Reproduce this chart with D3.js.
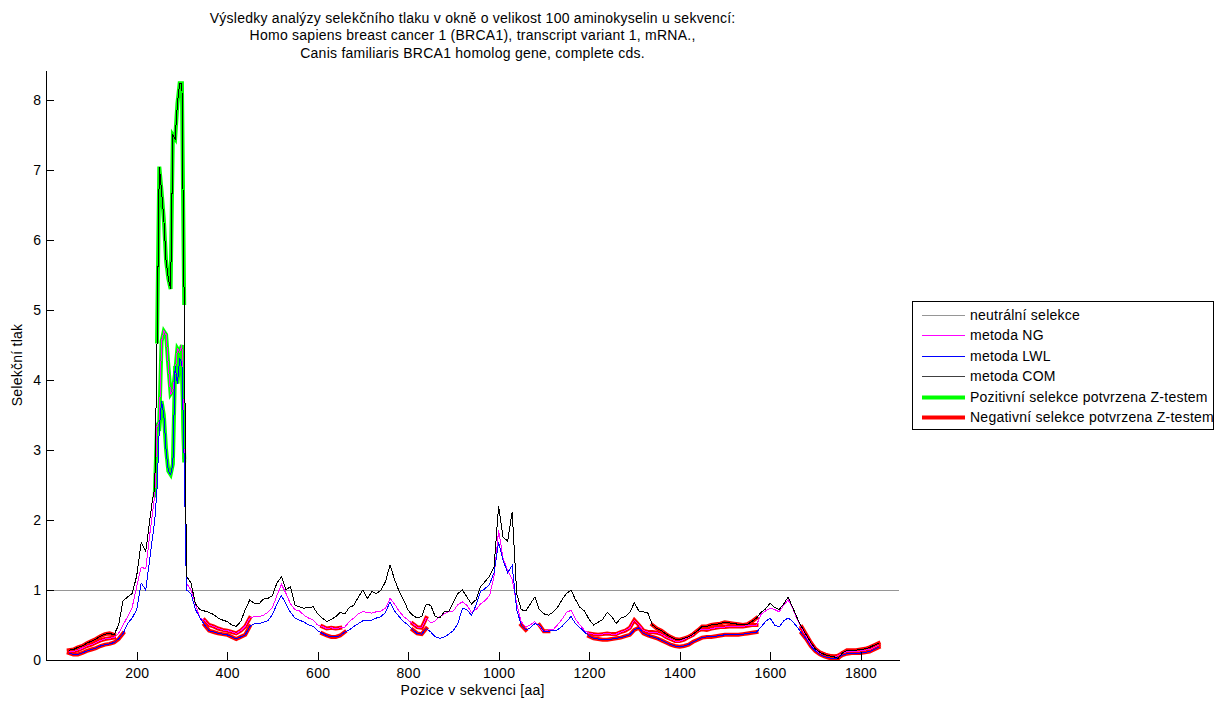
<!DOCTYPE html>
<html>
<head>
<meta charset="utf-8">
<script src="https://cdn.jsdelivr.net/npm/d3@7"></script>
<style>
  body { margin: 0; background: #ffffff; }
  text { font-family: "Liberation Sans", Arial, Helvetica, sans-serif; font-size: 14px; letter-spacing: 0.25px; fill: #000; }
</style>
</head>
<body>
<svg id="chart" width="1215" height="702"></svg>
<script>
// Title lines
const titleLines = [
  "Výsledky analýzy selekčního tlaku v okně o velikost 100 aminokyselin u sekvencí:",
  "Homo sapiens breast cancer 1 (BRCA1), transcript variant 1, mRNA.,",
  "Canis familiaris BRCA1 homolog gene, complete cds."
];
const xLabel = "Pozice v sekvenci [aa]";
const yLabel = "Selekční tlak";

// Window centre positions (aa)
const positions = [
  50, 60, 70, 80, 90,
  100, 110, 120, 130, 140, 150, 160, 170, 180, 190,
  200, 210, 220, 230,
  235, 240, 245, 250, 255, 260, 265, 270, 275, 280, 285, 290, 295, 300, 305, 310,
  320, 330, 340, 350, 360, 370, 380, 390,
  400, 410, 420, 430, 440, 450, 460, 470, 480, 490,
  500, 510, 520, 530, 540, 550, 560, 570, 580, 590,
  600, 610, 620, 630, 640, 650, 660, 670, 680, 690,
  700, 710, 720, 730, 740, 750, 760, 770, 780, 790,
  800, 810, 820, 830, 840, 850, 860, 870, 880, 890,
  900, 910, 920, 930, 940, 950, 960, 970, 980, 990,
  1000, 1010, 1020, 1030, 1040, 1050, 1060, 1070, 1080, 1090,
  1100, 1110, 1120, 1130, 1140, 1150, 1160, 1170, 1180, 1190,
  1200, 1210, 1220, 1230, 1240, 1250, 1260, 1270, 1280, 1290,
  1300, 1310, 1320, 1330, 1340, 1350, 1360, 1370, 1380, 1390,
  1400, 1410, 1420, 1430, 1440, 1450, 1460, 1470, 1480, 1490,
  1500, 1510, 1520, 1530, 1540, 1550, 1560, 1570, 1580, 1590,
  1600, 1610, 1620, 1630, 1640, 1650, 1660, 1670, 1680, 1690,
  1700, 1710, 1720, 1730, 1740, 1750, 1760, 1770, 1780, 1790,
  1800, 1810, 1820, 1830, 1840
];

// Selection pressure, method NG
const ngValues = [
  0.12, 0.12, 0.14, 0.17, 0.2,
  0.22, 0.25, 0.28, 0.3, 0.31, 0.32, 0.38, 0.5, 0.62, 0.75,
  1.05, 1.33, 1.3, 1.85,
  2.1, 2.35, 3.35, 3.4, 4.55, 4.7, 4.65, 4.2, 3.8, 3.85, 4.1, 4.45, 4.4, 4.5, 2.9, 1.1,
  1.0, 0.8, 0.6, 0.57, 0.5, 0.48, 0.45, 0.43,
  0.42, 0.4, 0.38, 0.42, 0.48, 0.6, 0.62, 0.62, 0.64, 0.68,
  0.75, 0.92, 1.08, 0.95, 0.8, 0.72, 0.7, 0.64, 0.6, 0.57,
  0.5, 0.48, 0.45, 0.46, 0.45, 0.46, 0.47, 0.55, 0.6, 0.66,
  0.69, 0.68, 0.67, 0.69, 0.7, 0.74, 0.88, 0.8, 0.7, 0.62,
  0.57, 0.52, 0.47, 0.46, 0.6, 0.53, 0.56, 0.62, 0.66, 0.69,
  0.7, 0.79, 0.83, 0.78, 0.68, 0.72, 0.8, 0.85, 0.92, 1.2,
  1.85, 1.45, 1.28, 1.15, 0.8, 0.55, 0.47, 0.5, 0.55, 0.48,
  0.41, 0.43, 0.43, 0.5, 0.58, 0.68, 0.71, 0.58, 0.5, 0.42,
  0.38, 0.37, 0.36, 0.37, 0.38, 0.37, 0.37, 0.4, 0.42, 0.46,
  0.57, 0.5, 0.42, 0.4, 0.4, 0.39, 0.37, 0.33, 0.3, 0.27,
  0.27, 0.29, 0.33, 0.36, 0.42, 0.44, 0.43, 0.45, 0.46, 0.47,
  0.47, 0.48, 0.48, 0.48, 0.48, 0.49, 0.5, 0.5, 0.65, 0.7,
  0.74, 0.72, 0.69, 0.78, 0.86, 0.74, 0.58, 0.45, 0.34, 0.22,
  0.15, 0.1, 0.08, 0.06, 0.05, 0.06, 0.1, 0.12, 0.12, 0.12,
  0.13, 0.14, 0.15, 0.18, 0.21
];

// Selection pressure, method LWL
const lwlValues = [
  0.1, 0.08, 0.08, 0.1, 0.13,
  0.15, 0.17, 0.2, 0.22, 0.23, 0.25, 0.3, 0.38, 0.52, 0.6,
  0.72, 1.1, 1.0, 1.5,
  1.75, 2.0, 2.45, 3.3, 3.7, 3.5, 3.0, 2.7, 2.65, 2.8, 4.2, 3.95, 4.3, 4.25, 2.85, 1.0,
  0.95, 0.72, 0.6, 0.5, 0.42, 0.4, 0.38, 0.37,
  0.36, 0.33, 0.3, 0.33, 0.36, 0.48, 0.52, 0.52, 0.54, 0.56,
  0.65, 0.8, 0.92, 0.8, 0.68, 0.6, 0.57, 0.54, 0.5, 0.48,
  0.42, 0.38, 0.35, 0.33, 0.33, 0.35, 0.4, 0.43, 0.48, 0.52,
  0.56, 0.57, 0.57, 0.6, 0.62, 0.68, 0.83, 0.7, 0.62, 0.55,
  0.5, 0.43, 0.38, 0.37, 0.45, 0.4, 0.33, 0.31, 0.33, 0.37,
  0.42, 0.52, 0.74, 0.72, 0.64, 0.78, 0.98, 1.02, 1.08, 1.25,
  1.68, 1.42, 1.25, 1.35, 0.72, 0.5, 0.43, 0.46, 0.52, 0.5,
  0.41, 0.41, 0.42, 0.43, 0.48, 0.55, 0.62, 0.52, 0.46, 0.4,
  0.34, 0.31, 0.3, 0.29, 0.29, 0.3, 0.31, 0.32, 0.34, 0.36,
  0.43, 0.46, 0.38, 0.35, 0.33, 0.31, 0.28, 0.25, 0.22, 0.2,
  0.19, 0.2, 0.22, 0.26, 0.29, 0.32, 0.33, 0.33, 0.34, 0.35,
  0.36, 0.36, 0.36, 0.36, 0.37, 0.38, 0.39, 0.4, 0.47, 0.55,
  0.6, 0.5, 0.47, 0.56, 0.6, 0.55, 0.47, 0.38, 0.3, 0.2,
  0.13, 0.08, 0.05, 0.03, 0.02, 0.03, 0.07, 0.09, 0.1, 0.1,
  0.1, 0.11, 0.12, 0.15, 0.18
];

// Selection pressure, method COM
const comValues = [
  0.14, 0.15, 0.18, 0.2, 0.24,
  0.27, 0.3, 0.34, 0.37, 0.38, 0.36, 0.5, 0.85, 0.9, 0.95,
  1.2, 1.68, 1.55, 2.05,
  2.3, 2.45, 4.55, 7.05, 6.7, 6.3, 5.7, 5.45, 5.3, 7.5, 7.45, 7.95, 8.24, 8.24, 5.1, 1.2,
  1.1, 0.8, 0.72, 0.7, 0.68, 0.65, 0.6, 0.57,
  0.55, 0.5, 0.48, 0.55, 0.72, 0.86, 0.81, 0.8, 0.87, 0.88,
  0.92, 1.1, 1.19, 1.0, 1.05, 0.78, 0.76, 0.74, 0.75, 0.76,
  0.66, 0.6, 0.55, 0.58, 0.62, 0.68, 0.66, 0.75, 0.78, 0.9,
  1.0, 0.88, 0.98, 0.95, 1.0, 1.12, 1.36, 1.15, 0.98, 0.86,
  0.71, 0.64, 0.6, 0.62, 0.8, 0.78, 0.62, 0.6, 0.69, 0.7,
  0.83, 0.95, 1.0, 0.9, 0.8, 0.86, 1.05, 1.12, 1.2, 1.33,
  2.2, 1.75, 1.7, 2.12, 0.95, 0.72, 0.7, 0.8, 0.9, 0.72,
  0.66, 0.64, 0.68, 0.75, 0.86, 0.95, 1.0, 0.86, 0.75, 0.7,
  0.58, 0.5, 0.54, 0.58, 0.68, 0.62, 0.52, 0.6, 0.62, 0.68,
  0.82, 0.7, 0.69, 0.67, 0.5, 0.45, 0.42, 0.37, 0.33, 0.3,
  0.29, 0.31, 0.33, 0.37, 0.42, 0.48, 0.48, 0.5, 0.51, 0.52,
  0.54, 0.53, 0.52, 0.51, 0.5, 0.51, 0.55, 0.6, 0.68, 0.73,
  0.81, 0.75, 0.72, 0.8, 0.9, 0.75, 0.6, 0.47, 0.36, 0.25,
  0.16, 0.11, 0.08, 0.06, 0.05, 0.02, 0.1, 0.14, 0.14, 0.14,
  0.15, 0.16, 0.18, 0.21, 0.24
];

// Neutral selection level
const neutralLevel = 1;

// Windows where Z-test confirms positive / negative selection [from, to] (aa)
const ngPositive = [[240, 305]];
const lwlPositive = [[250, 305]];
const comPositive = [[245, 305]];
const ngNegative = [[50, 150], [350, 450], [610, 650], [810, 840], [1200, 1570], [1670, 1840]];
const lwlNegative = [[50, 170], [350, 450], [610, 660], [810, 840], [1050, 1060], [1090, 1110], [1200, 1570], [1670, 1840]];
const comNegative = [[50, 150], [1340, 1570], [1670, 1840]];

// Axis ticks
const xTickValues = [200, 400, 600, 800, 1000, 1200, 1400, 1600, 1800];
const yTickValues = [0, 1, 2, 3, 4, 5, 6, 7, 8];

// Legend entries
const legendLabels = [
  "neutrální selekce",
  "metoda NG",
  "metoda LWL",
  "metoda COM",
  "Pozitivní selekce potvrzena Z-testem",
  "Negativní selekce potvrzena Z-testem"
];

const colors = {
  neutral: "#969696",
  ng: "#ff00ff",
  lwl: "#0000ff",
  com: "#000000",
  pos: "#00ff00",
  neg: "#ff0000"
};

const svg = d3.select("#chart");

const plot = { left: 46.2, right: 899, top: 70, bottom: 660 };

const x = d3.scaleLinear().domain([0, 1885]).range([plot.left, plot.right]);
const y = d3.scaleLinear().domain([0, 8.43]).range([plot.bottom, plot.top]);

const line = d3.line()
  .x(d => x(d[0]))
  .y(d => y(d[1]));

const seriesPoints = vals => positions.map((p, i) => [p, vals[i]]);
const ngPts = seriesPoints(ngValues);
const lwlPts = seriesPoints(lwlValues);
const comPts = seriesPoints(comValues);

svg.append("defs").append("clipPath").attr("id", "plotClip")
  .append("rect")
  .attr("x", plot.left).attr("y", plot.top - 2)
  .attr("width", plot.right - plot.left).attr("height", plot.bottom - plot.top + 2);

const g = svg.append("g").attr("clip-path", "url(#plotClip)");

// neutral level
g.append("path")
  .attr("d", line([[0, neutralLevel], [1885, neutralLevel]]))
  .attr("fill", "none")
  .attr("stroke", colors.neutral)
  .attr("stroke-width", 1)
  .attr("shape-rendering", "crispEdges");

// thick highlight segments (drawn under the thin method curves)
function highlight(pts, ranges, color) {
  ranges.forEach(([a, b]) => {
    const seg = pts.filter(d => d[0] >= a && d[0] <= b);
    if (seg.length < 2) return;
    g.append("path")
      .attr("d", line(seg))
      .attr("fill", "none")
      .attr("stroke", color)
      .attr("stroke-width", 4)
      .attr("stroke-linejoin", "miter")
      .attr("stroke-linecap", "square");
  });
}
highlight(ngPts, ngNegative, colors.neg);
highlight(lwlPts, lwlNegative, colors.neg);
highlight(comPts, comNegative, colors.neg);
highlight(ngPts, ngPositive, colors.pos);
highlight(lwlPts, lwlPositive, colors.pos);
highlight(comPts, comPositive, colors.pos);

// method curves
[[ngPts, colors.ng], [lwlPts, colors.lwl], [comPts, colors.com]].forEach(([pts, c]) => {
  g.append("path")
    .attr("d", line(pts))
    .attr("fill", "none")
    .attr("stroke", c)
    .attr("stroke-width", 1)
    .attr("shape-rendering", "crispEdges");
});

// axes, ticks pointing inward
const xAxis = d3.axisBottom(x).tickValues(xTickValues).tickFormat(d3.format("d"))
  .tickSizeInner(-8).tickSizeOuter(0).tickPadding(8);
const yAxis = d3.axisLeft(y).tickValues(yTickValues).tickFormat(d3.format("d"))
  .tickSizeInner(-8).tickSizeOuter(0).tickPadding(5);

const gx = svg.append("g").attr("transform", `translate(0,${plot.bottom})`).call(xAxis);
const gy = svg.append("g").attr("transform", `translate(${plot.left},0)`).call(yAxis);
[gx, gy].forEach(a => {
  a.selectAll("path, line").attr("stroke", "#000").attr("shape-rendering", "crispEdges");
  a.selectAll("text")
    .style("font-size", "14px")
    .style("letter-spacing", "0.25px")
    .style("font-family", '"Liberation Sans", Arial, sans-serif')
    .attr("fill", "#000");
});

// title
svg.append("g").selectAll("text").data(titleLines).join("text")
  .attr("x", (plot.left + plot.right) / 2)
  .attr("y", (d, i) => 22.5 + i * 17.5)
  .attr("text-anchor", "middle")
  .text(d => d);

// axis labels
svg.append("text")
  .attr("x", (plot.left + plot.right) / 2)
  .attr("y", 695)
  .attr("text-anchor", "middle")
  .text(xLabel);

svg.append("text")
  .attr("transform", `translate(22,${(plot.top + plot.bottom) / 2}) rotate(-90)`)
  .attr("text-anchor", "middle")
  .text(yLabel);

// legend
const legend = svg.append("g");
legend.append("rect")
  .attr("x", 912.5).attr("y", 301.5)
  .attr("width", 301).attr("height", 128)
  .attr("fill", "#fff").attr("stroke", "#000").attr("stroke-width", 1);

const legendStyles = [
  { c: colors.neutral, w: 1 },
  { c: colors.ng, w: 1 },
  { c: colors.lwl, w: 1 },
  { c: "#404040", w: 1 },
  { c: colors.pos, w: 4 },
  { c: colors.neg, w: 4 }
];
legendLabels.forEach((lab, i) => {
  const cy = 315 + i * 20.4;
  legend.append("line")
    .attr("x1", 922).attr("x2", 965)
    .attr("y1", Math.round(cy) + 0.5).attr("y2", Math.round(cy) + 0.5)
    .attr("stroke", legendStyles[i].c)
    .attr("stroke-width", legendStyles[i].w);
  legend.append("text")
    .attr("x", 970).attr("y", cy + 5)
    .text(lab);
});
</script>
</body>
</html>
